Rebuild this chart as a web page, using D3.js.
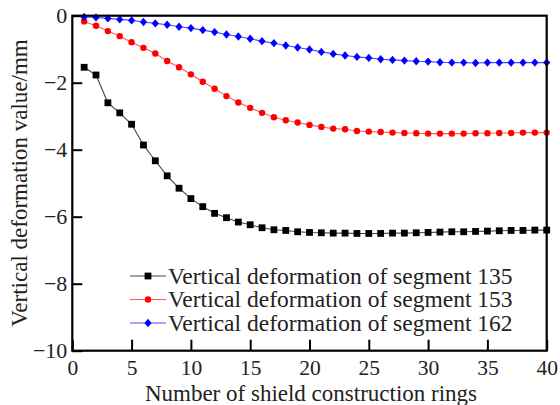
<!DOCTYPE html>
<html><head><meta charset="utf-8">
<script src="https://cdn.jsdelivr.net/npm/d3@7/dist/d3.min.js"></script>
<style>body{margin:0;background:#fff}svg{display:block}text{font-family:"Liberation Serif","Times New Roman",serif;fill:#222}</style>
</head><body><svg id="c" width="560" height="405"></svg>
<script>
const rings = [1,2,3,4,5,6,7,8,9,10,11,12,13,14,15,16,17,18,19,20,21,22,23,24,25,26,27,28,29,30,31,32,33,34,35,36,37,38,39,40];
const seg135 = [-1.54,-1.77,-2.60,-2.90,-3.24,-3.86,-4.33,-4.78,-5.15,-5.46,-5.70,-5.90,-6.03,-6.16,-6.24,-6.33,-6.39,-6.41,-6.45,-6.47,-6.48,-6.49,-6.49,-6.50,-6.50,-6.50,-6.49,-6.49,-6.48,-6.47,-6.46,-6.45,-6.45,-6.44,-6.43,-6.42,-6.41,-6.41,-6.40,-6.40];
const seg153 = [-0.17,-0.30,-0.46,-0.61,-0.79,-0.96,-1.13,-1.35,-1.54,-1.75,-1.97,-2.18,-2.40,-2.59,-2.75,-2.90,-3.03,-3.12,-3.19,-3.26,-3.32,-3.37,-3.39,-3.44,-3.46,-3.47,-3.49,-3.50,-3.51,-3.52,-3.52,-3.52,-3.52,-3.51,-3.51,-3.50,-3.50,-3.49,-3.49,-3.49];
const seg162 = [-0.04,-0.05,-0.08,-0.11,-0.14,-0.19,-0.23,-0.27,-0.33,-0.37,-0.43,-0.49,-0.56,-0.62,-0.69,-0.76,-0.82,-0.89,-0.95,-1.01,-1.08,-1.14,-1.19,-1.23,-1.26,-1.30,-1.32,-1.34,-1.36,-1.37,-1.39,-1.40,-1.40,-1.41,-1.40,-1.40,-1.40,-1.40,-1.40,-1.40];
const seriesNames = ["Vertical deformation of segment 135","Vertical deformation of segment 153","Vertical deformation of segment 162"];
const xTicks = [0,5,10,15,20,25,30,35,40];
const yTicks = [0,-2,-4,-6,-8,-10];
const xTitle = "Number of shield construction rings";
const yTitle = "Vertical deformation value/mm";

const FONT = '"Liberation Serif","Times New Roman",serif';
const svg = d3.select("#c");
const L = 72.3, R = 546.7, T = 15.7, B = 350.7;
const x = d3.scaleLinear().domain([0,40]).range([L,R]);
const y = d3.scaleLinear().domain([-10,0]).range([B,T]);

const styles = [
  {data: seg135, line: "#444", fill: "#000", shape: "square"},
  {data: seg153, line: "#ff5a5a", fill: "#ff0000", shape: "circle"},
  {data: seg162, line: "#4a4aff", fill: "#0000ff", shape: "diamond"}
];
function marker(g, shape, fill){
  if(shape==="square") g.append("rect").attr("x",-3.4).attr("y",-3.4).attr("width",6.8).attr("height",6.8).attr("fill",fill);
  else if(shape==="circle") g.append("circle").attr("r",3.2).attr("fill",fill);
  else g.append("path").attr("d","M0,-4.2L3.6,0L0,4.2L-3.6,0Z").attr("fill",fill);
}
const line = d3.line().x(d=>x(d[0])).y(d=>y(d[1]));
styles.forEach(s=>{
  const pts = rings.map((r,i)=>[r,s.data[i]]);
  svg.append("path").attr("d",line(pts)).attr("fill","none").attr("stroke",s.line).attr("stroke-width",1.1);
  pts.forEach(p=>{
    const g = svg.append("g").attr("transform",`translate(${x(p[0])},${y(p[1])})`);
    marker(g,s.shape,s.fill);
  });
});

// axes
const xAxis = d3.axisBottom(x).tickValues(xTicks).tickSize(-11).tickPadding(0).tickFormat(d3.format("d"));
const gx = svg.append("g").attr("transform",`translate(0,${B})`).call(xAxis);
gx.attr("font-family",FONT);
gx.select(".domain").remove();
gx.selectAll("line").attr("stroke","#000").attr("stroke-width",2);
gx.selectAll("text").attr("font-size",21.5).attr("y",24.5).attr("dy",0).style("font-family",FONT).attr("fill","#222");

const yAxis = d3.axisLeft(y).tickValues(yTicks).tickSize(-10).tickPadding(5).tickFormat(d=>d===0?"0":"\u2212"+Math.abs(d));
const gy = svg.append("g").attr("transform",`translate(${L},0)`).call(yAxis);
gy.attr("font-family",FONT);
gy.select(".domain").remove();
gy.selectAll("line").attr("stroke","#000").attr("stroke-width",2);
gy.selectAll("text").attr("font-size",22).style("font-family",FONT).attr("fill","#222");

svg.append("rect").attr("x",L).attr("y",T).attr("width",R-L).attr("height",B-T)
  .attr("fill","none").attr("stroke","#000").attr("stroke-width",2.2);

// legend
seriesNames.forEach((name,i)=>{
  const ly = 276 + i*23.5;
  const s = styles[i];
  svg.append("line").attr("x1",130).attr("x2",166).attr("y1",ly).attr("y2",ly).attr("stroke",s.line).attr("stroke-width",1.2);
  const g = svg.append("g").attr("transform",`translate(148,${ly})`);
  marker(g,s.shape,s.fill);
  svg.append("text").attr("x",168).attr("y",ly+7.5).attr("font-size",23.5).style("font-family",FONT).text(name);
});

svg.append("text").attr("x",311).attr("y",401).attr("text-anchor","middle").attr("font-size",23).style("font-family",FONT).text(xTitle);
svg.append("text").attr("transform","translate(27,183) rotate(-90)").attr("text-anchor","middle").attr("font-size",23).style("font-family",FONT).text(yTitle);
</script></body></html>
